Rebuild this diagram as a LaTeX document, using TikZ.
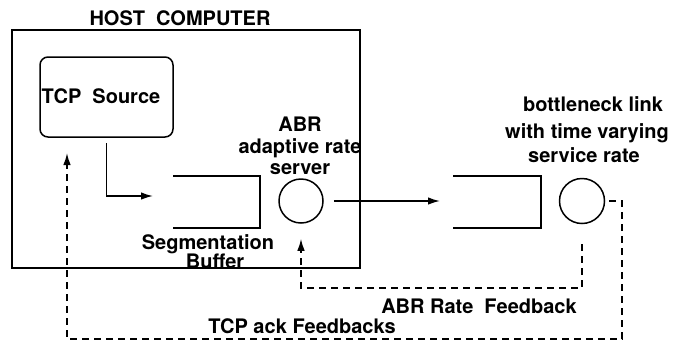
\documentclass[tikz,border=0pt]{standalone}
\usepackage{fontspec}
\setmainfont{TeX Gyre Heros}
\usetikzlibrary{arrows.meta}
\begin{document}
\begin{tikzpicture}[x=1pt,y=-1pt,line width=1.5pt,
  lbl/.style={font=\fontsize{20}{22}\selectfont\bfseries,inner sep=0pt,anchor=base},
  arr/.style={-{Latex[length=12pt,width=7.5pt]}},
  fb/.style={dash pattern=on 7pt off 5pt},
  blank/.style={inner sep=0pt,outer sep=0pt},
  srv/.style={draw,circle,inner sep=0pt,minimum size=44pt}]
\useasboundingbox (0,0) rectangle (674,341);
% host computer frame
\node[draw,blank,minimum width=348pt,minimum height=238pt] (host) at (186,149) {};
\node[lbl] (hosttitle) at (180,25) {HOST\ \ COMPUTER};
% TCP source
\node[draw,blank,rounded corners=8pt,minimum width=133pt,minimum height=80pt] (tcp) at (106.5,97) {};
\node[lbl] (tcplbl) at (101,103) {TCP\ \ Source};
% segmentation buffer
\node[blank,minimum width=87pt,minimum height=52pt] (buf1) at (216.5,202) {};
\draw (buf1.north west) -- (buf1.north east) -- (buf1.south east) -- (buf1.south west);
\node[lbl] (seglbl) at (208,249) {Segmentation};
\node[lbl] (buflbl) at (215,268) {Buffer};
% ABR server
\node[srv] (abr) at (301,201) {};
\node[lbl] (abrl1) at (300,131) {ABR};
\node[lbl] (abrl2) at (300,153) {adaptive rate};
\node[lbl] (abrl3) at (300,174) {server};
% bottleneck buffer and server
\node[blank,minimum width=88pt,minimum height=52pt] (buf2) at (497,202) {};
\draw (buf2.north west) -- (buf2.north east) -- (buf2.south east) -- (buf2.south west);
\node[srv,minimum size=45pt] (bn) at (582,201) {};
\node[lbl] (bnl1) at (593,111) {bottleneck link};
\node[lbl] (bnl2) at (587,138) {with time varying};
\node[lbl] (bnl3) at (584,162) {service rate};
% data arrows
\coordinate (segin) at (153,196);
\coordinate (q2in) at (440,201);
\draw[arr] ([yshift=-6pt]tcp.south) |- (segin);
\draw[arr] ([xshift=10pt]abr.east) -- (q2in);
% ABR rate feedback
\coordinate (abrfb) at (301,288);
\draw[fb,arr] ([yshift=-20pt]bn.south) |- (abrfb) -- ([yshift=-15pt]abr.south);
\node[lbl] (abrfbl) at (479,313) {ABR Rate\ \ Feedback};
% TCP ack feedback
\coordinate (ackcorner) at (622,339);
\coordinate (acktip) at (67,153);
\draw[fb,arr] ([xshift=4pt]bn.east) -| (ackcorner) -| (acktip);
\node[lbl] (ackl) at (302,333) {TCP ack Feedbacks};
\end{tikzpicture}
\end{document}
